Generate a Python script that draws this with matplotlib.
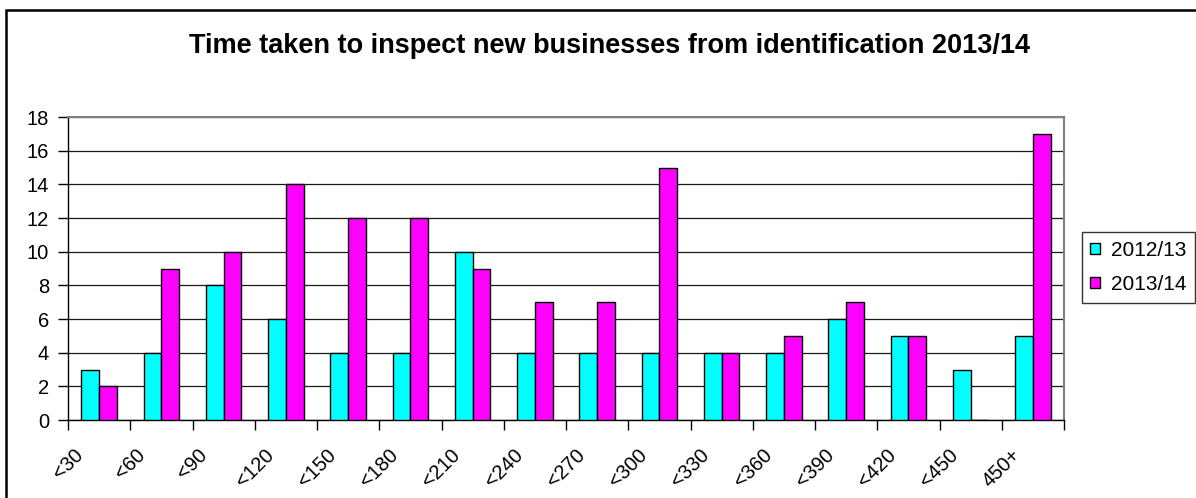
import matplotlib
matplotlib.use('Agg')
import matplotlib.pyplot as plt
from matplotlib.patches import Rectangle
import numpy as np

plt.rcParams['font.family'] = ['Liberation Sans', 'DejaVu Sans']

categories = ['<30', '<60', '<90', '<120', '<150', '<180', '<210', '<240',
              '<270', '<300', '<330', '<360', '<390', '<420', '<450', '450+']
y2012 = [3, 4, 8, 6, 4, 4, 10, 4, 4, 4, 4, 4, 6, 5, 3, 5]
y2013 = [2, 9, 10, 14, 12, 12, 9, 7, 7, 15, 4, 5, 7, 5, 0, 17]

N = len(categories)
ind = np.arange(N)
width = 1 / 3.5  # two bars + 150% gap

W, H = 1196, 498
fig = plt.figure(figsize=(W / 100, H / 100), dpi=100)
ax = fig.add_axes([68 / W, (H - 420) / H, (1064 - 68) / W, (420 - 117) / H])

ax.bar(ind + 0.5 - width / 2, y2012, width, color='#00FFFF', edgecolor='black',
       linewidth=1.0, label='2012/13', zorder=3)
ax.bar(ind + 0.5 + width / 2, y2013, width, color='#FF00FF', edgecolor='black',
       linewidth=1.0, label='2013/14', zorder=3)

ax.set_xlim(0, N)
ax.set_ylim(0, 18)
ax.set_yticks(np.arange(0, 19, 2))
ax.set_xticks(np.arange(0, N + 1))
ax.set_xticklabels(categories + [''], rotation=45, ha='center', va='top')
ax.tick_params(axis='both', direction='out', length=7, width=1, labelsize=14.5,
               color='black')
ax.tick_params(axis='x', pad=11)
ax.tick_params(axis='y', pad=6.5)

ax.yaxis.grid(True, color='#1a1a1a', linewidth=0.9, zorder=0)
ax.set_axisbelow(True)
for side in ['left', 'bottom']:
    ax.spines[side].set_color('black')
    ax.spines[side].set_linewidth(1.0)
for side in ['top', 'right']:
    ax.spines[side].set_color('#808080')
    ax.spines[side].set_linewidth(1.5)

fig.text(609 / W, 1 - 46 / H,
         'Time taken to inspect new businesses from identification 2013/14',
         ha='center', va='center', fontsize=19.5, fontweight='bold')

leg = fig.legend(loc='center left', bbox_to_anchor=(1082 / W, 1 - 267.5 / H),
                 fontsize=15, frameon=True, fancybox=False, edgecolor='black',
                 handlelength=0.45, handleheight=0.45, handletextpad=0.55,
                 borderpad=0.4, labelspacing=0.75, borderaxespad=0)
leg.get_frame().set_linewidth(1.0)

# chart border (left and top edges)
fig.patches.append(Rectangle((6 / W, -0.5), 2.0, 0.5 + 1 - 10 / H,
                             transform=fig.transFigure, fill=False,
                             edgecolor='black', linewidth=1.8))

fig.savefig('out.png', dpi=100)
